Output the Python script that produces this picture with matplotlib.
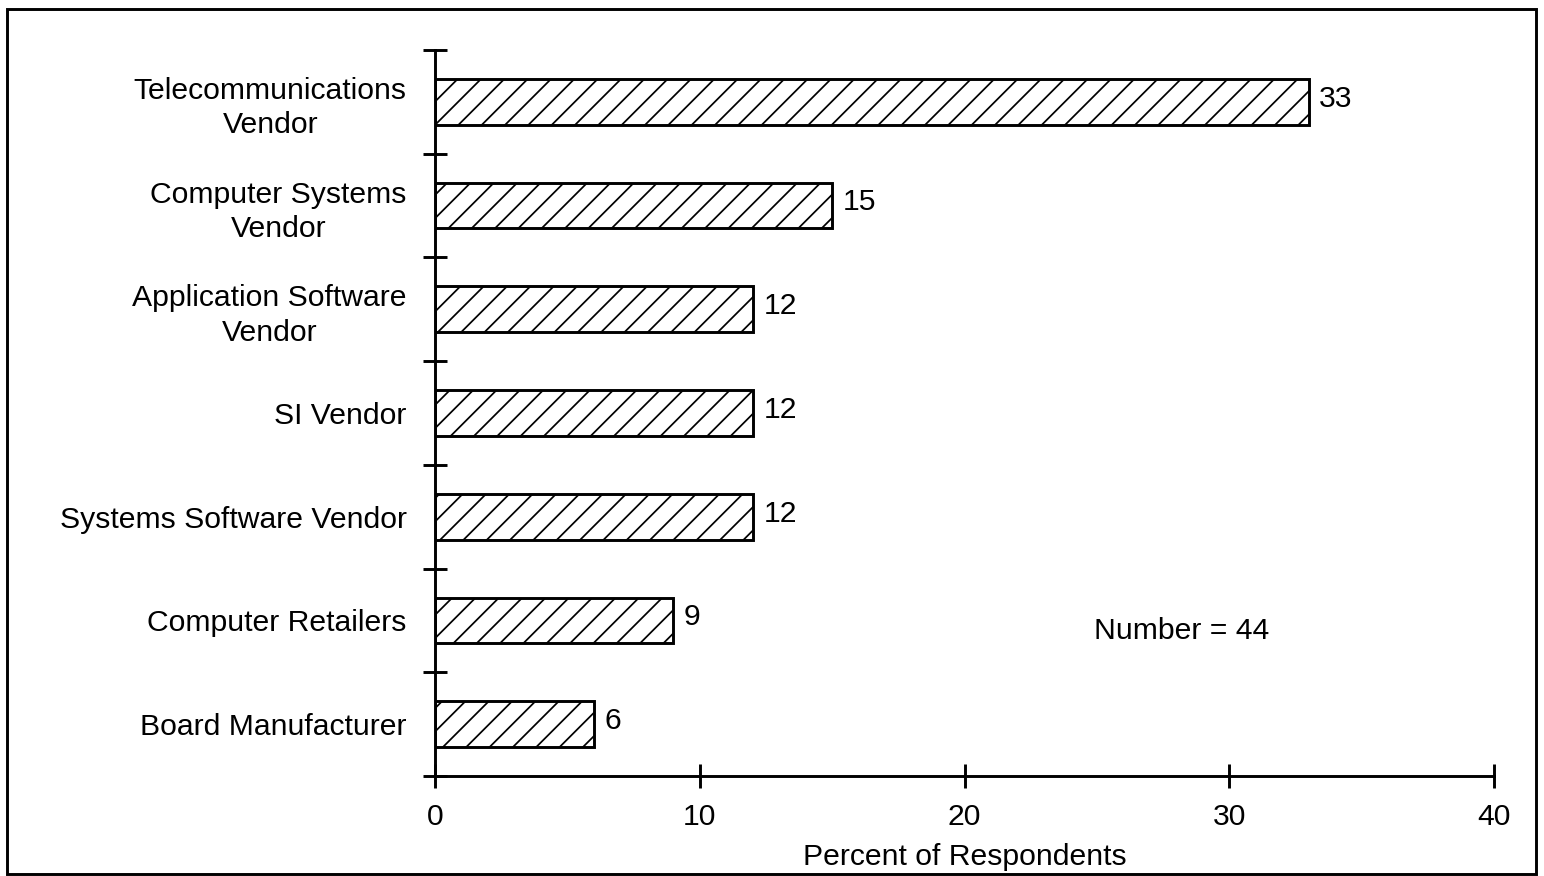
import matplotlib.pyplot as plt
from matplotlib.patches import Rectangle

categories = ['Telecommunications\nVendor', 'Computer Systems\nVendor',
              'Application Software\nVendor', 'SI Vendor',
              'Systems Software Vendor', 'Computer Retailers',
              'Board Manufacturer']
values = [33, 15, 12, 12, 12, 9, 6]
x_ticks = [0, 10, 20, 30, 40]

plt.rcParams['font.family'] = ['Liberation Sans', 'DejaVu Sans']
plt.rcParams['hatch.linewidth'] = 0.9
fs = 15.5

dpi = 140
fig = plt.figure(figsize=(1544 / dpi, 876 / dpi), dpi=dpi)
ax = fig.add_axes([435 / 1544, 1 - 776 / 876, (1494 - 435) / 1544, (776 - 50) / 876])

ypos = list(range(len(categories)))[::-1]
ax.barh(ypos, values, height=0.44, color='white', edgecolor='black',
        linewidth=1.5, hatch='//')
for y, v in zip(ypos, values):
    ax.text(v + 0.4, y + 0.03, str(v), va='center', ha='left', fontsize=fs)

ax.set_xlim(0, 40)
ax.set_ylim(-0.5, len(categories) - 0.5)
ax.set_xticks(x_ticks)
ax.set_xticklabels([str(t) for t in x_ticks], fontsize=fs)
ax.set_yticks([i - 0.5 for i in range(len(categories) + 1)])
ax.set_yticklabels([])
ax.set_yticks(ypos, minor=True)
ax.set_yticklabels(categories, minor=True, fontsize=fs, ha='right',
                   multialignment='center', linespacing=1.3)
ax.tick_params(axis='y', which='minor', length=0, pad=14.5)
ax.tick_params(axis='both', which='major', direction='inout', length=12,
               width=1.5)
ax.tick_params(axis='x', pad=8)
for s in ['top', 'right']:
    ax.spines[s].set_visible(False)
for s in ['left', 'bottom']:
    ax.spines[s].set_linewidth(1.5)
ax.set_xlabel('Percent of Respondents', fontsize=fs, labelpad=6)

ax.text(28.2, 0.9, 'Number = 44', fontsize=fs, ha='center', va='center')

fig.patches.append(Rectangle((7 / 1544, 2 / 876), 1529 / 1544, 865 / 876,
                             transform=fig.transFigure, fill=False,
                             edgecolor='black', linewidth=1.5))

fig.savefig('out.png', dpi=dpi)
plt.close(fig)
